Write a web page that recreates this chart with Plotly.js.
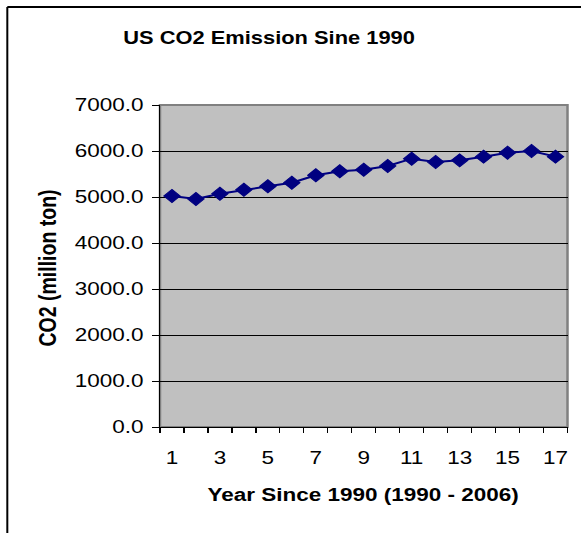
<!DOCTYPE html>
<html>
<head>
<meta charset="utf-8">
<script src="https://cdn.plot.ly/plotly-3.0.1.min.js"></script>
<style>
  html, body { margin: 0; padding: 0; background: #ffffff; overflow: hidden; }
  /* the chart is laid out narrow and widened horizontally, like the original spreadsheet export */
  #wrap { width: 465px; height: 533px; transform: scaleX(1.25); transform-origin: 0 0; }
  #chart { width: 465px; height: 533px; }
</style>
</head>
<body>
<div id="wrap"><div id="chart"></div></div>
<script>
// Year index since 1990 (1 = 1990 ... 17 = 2006)
const years = [1, 2, 3, 4, 5, 6, 7, 8, 9, 10, 11, 12, 13, 14, 15, 16, 17];
// US CO2 emissions, million metric tons
const co2 = [5022, 4957, 5072, 5159, 5232, 5311, 5472, 5558, 5594, 5674, 5833, 5761, 5797, 5877, 5963, 6000, 5877];
// Labelled x ticks (every other year)
const xLabels = years.filter(y => y % 2 === 1);

const FONT = 'Liberation Sans, Arial, sans-serif';
const navy = '#000080';

const trace = {
  x: years,
  y: co2,
  type: 'scatter',
  mode: 'lines+markers',
  line: { color: navy, width: 2 },
  marker: { symbol: 'diamond', size: 10, color: navy, line: { color: navy, width: 1 } },
  hoverinfo: 'x+y'
};

const layout = {
  width: 465,
  height: 533,
  margin: { l: 128, r: 11.4, t: 105, b: 106, pad: 0 },
  paper_bgcolor: '#ffffff',
  plot_bgcolor: '#C0C0C0',
  showlegend: false,
  font: { family: FONT, color: '#000000' },
  title: {
    text: 'US CO2 Emission Sine 1990',
    font: { family: FONT, size: 17.5, color: '#000000', weight: 'bold' },
    xref: 'container', yref: 'container',
    x: 0.463, xanchor: 'center',
    y: 0.929, yanchor: 'middle'
  },
  xaxis: {
    range: [0.5, 17.5],
    tickmode: 'array',
    tickvals: xLabels,
    ticktext: xLabels.map(String),
    ticks: '',
    ticklabelstandoff: 14,
    minor: { ticks: 'outside', tick0: 0.5, dtick: 1, ticklen: 5, tickcolor: '#000000', tickwidth: 1, showgrid: false },
    showgrid: false,
    zeroline: false,
    showline: true,
    linecolor: '#000000',
    linewidth: 1,
    tickfont: { family: FONT, size: 18, color: '#000000' },
    fixedrange: true
  },
  yaxis: {
    range: [0, 7000],
    tickmode: 'linear',
    tick0: 0,
    dtick: 1000,
    tickformat: '.1f',
    ticks: 'outside',
    ticklen: 5.6,
    tickwidth: 1,
    tickcolor: '#000000',
    ticklabelstandoff: 3,
    showgrid: true,
    gridcolor: '#000000',
    gridwidth: 1,
    zeroline: false,
    showline: true,
    linecolor: '#000000',
    linewidth: 1,
    tickfont: { family: FONT, size: 18, color: '#000000' },
    fixedrange: true
  },
  annotations: [
    {
      text: 'CO2 (million ton)',
      xref: 'paper', yref: 'paper',
      x: -0.2776, y: 0.4938,
      xanchor: 'center', yanchor: 'middle',
      textangle: -90,
      showarrow: false,
      font: { family: FONT, size: 19.5, color: '#000000', weight: 'bold' }
    },
    {
      text: 'Year Since 1990 (1990 - 2006)',
      xref: 'paper', yref: 'paper',
      x: 0.4975, y: -0.211,
      xanchor: 'center', yanchor: 'middle',
      showarrow: false,
      font: { family: FONT, size: 18, color: '#000000', weight: 'bold' }
    }
  ],
  shapes: [
    // plot area frame
    { type: 'rect', xref: 'paper', yref: 'paper', x0: 0, x1: 1, y0: 0, y1: 1,
      line: { color: '#808080', width: 2 }, layer: 'below' },
    // chart frame: left edge
    { type: 'line', xref: 'paper', yref: 'paper', x0: -0.3747, x1: -0.3747, y0: -0.35, y1: 1.3043,
      line: { color: '#000000', width: 1.6 } },
    // chart frame: top edge
    { type: 'line', xref: 'paper', yref: 'paper', x0: -0.3747, x1: 1.06, y0: 1.3043, y1: 1.3043,
      line: { color: '#000000', width: 2 } }
  ]
};

Plotly.newPlot('chart', [trace], layout, { displayModeBar: false, staticPlot: true });
</script>
</body>
</html>
